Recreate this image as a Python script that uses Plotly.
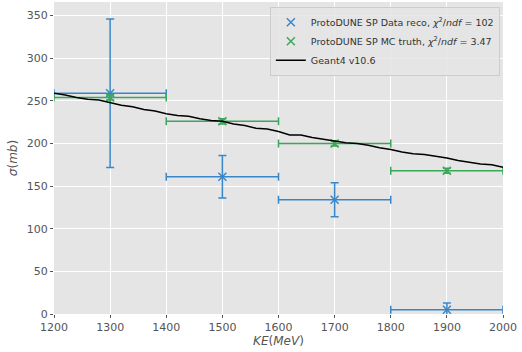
import plotly.graph_objects as go

# Data
bin_centers = [1300, 1500, 1700, 1900]
bin_halfwidth = [100, 100, 100, 100]
data_xs = [259, 161, 134, 5]
data_err = [87, 25, 20, 8]
mc_xs = [254, 226, 200, 168]
mc_err = [3, 3, 3, 3]
g4_ke = [1200, 1220, 1240, 1260, 1280, 1300, 1320, 1340, 1360, 1380, 1400,
         1420, 1440, 1460, 1480, 1500, 1520, 1540, 1560, 1580, 1600,
         1620, 1640, 1660, 1680, 1700, 1720, 1740, 1760, 1780, 1800,
         1820, 1840, 1860, 1880, 1900, 1920, 1940, 1960, 1980, 2000]
g4_xs = [259, 257, 254, 252, 251, 248, 245, 243, 240, 238, 235,
         233, 232, 229, 227, 226, 223, 221, 218, 217, 214,
         210, 210, 207, 205, 203, 201, 200, 198, 195, 193,
         190, 188, 187, 185, 183, 180, 178, 176, 175, 172]
x_ticks = [1200, 1300, 1400, 1500, 1600, 1700, 1800, 1900, 2000]
y_ticks = [0, 50, 100, 150, 200, 250, 300, 350]

BLUE = "#3987c9"
GREEN = "#3aa858"

fig = go.Figure()
fig.add_trace(go.Scatter(
    x=bin_centers, y=data_xs, mode="markers",
    name="ProtoDUNE SP Data reco, <i>χ</i><sup>2</sup>/<i>ndf</i> = 102",
    marker=dict(symbol="x-thin", size=8, color=BLUE, line=dict(color=BLUE, width=1.5)),
    error_y=dict(type="data", array=data_err, color=BLUE, thickness=1.5, width=4),
    error_x=dict(type="data", array=bin_halfwidth, color=BLUE, thickness=1.5, width=4),
))
fig.add_trace(go.Scatter(
    x=bin_centers, y=mc_xs, mode="markers",
    name="ProtoDUNE SP MC truth, <i>χ</i><sup>2</sup>/<i>ndf</i> = 3.47",
    marker=dict(symbol="x-thin", size=8, color=GREEN, line=dict(color=GREEN, width=1.5)),
    error_y=dict(type="data", array=mc_err, color=GREEN, thickness=1.5, width=4),
    error_x=dict(type="data", array=bin_halfwidth, color=GREEN, thickness=1.5, width=4),
))
fig.add_trace(go.Scatter(
    x=g4_ke, y=g4_xs, mode="lines", name="Geant4 v10.6",
    line=dict(color="black", width=1.5),
))

axis_common = dict(
    showgrid=True, gridcolor="white", gridwidth=1, zeroline=False,
    ticks="outside", ticklen=3, tickcolor="#555555", tickwidth=1,
    tickfont=dict(family="DejaVu Sans", size=11, color="#555555"),
    showline=False,
)
fig.update_xaxes(range=[1200, 2000], tickvals=x_ticks,
                 title=dict(text="<i>KE</i>(<i>MeV</i>)", standoff=3,
                            font=dict(family="DejaVu Sans", size=12, color="#555555")),
                 **axis_common)
fig.update_yaxes(range=[0, 366], tickvals=y_ticks,
                 title=dict(text="<i>σ</i>(<i>mb</i>)", standoff=6,
                            font=dict(family="DejaVu Sans", size=12, color="#555555")),
                 **axis_common)

fig.update_layout(
    width=522, height=352,
    margin=dict(l=54, r=19, t=2, b=38),
    paper_bgcolor="white", plot_bgcolor="#e5e5e5",
    font=dict(family="DejaVu Sans", size=9.5, color="#333333"),
    legend=dict(x=0.993, y=0.985, xanchor="right", yanchor="top",
                bgcolor="rgba(229,229,229,0.85)", bordercolor="#cccccc", borderwidth=1,
                font=dict(family="DejaVu Sans", size=9.5, color="#333333"),
                tracegroupgap=0, itemwidth=30),
    showlegend=True,
)

fig.write_html("out.html")
